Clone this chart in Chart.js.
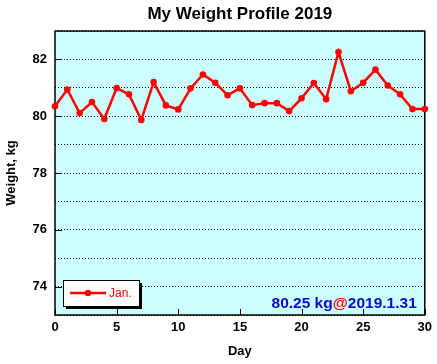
<!DOCTYPE html>
<html>
<head>
<meta charset="utf-8">
<title>My Weight Profile 2019</title>
<script src="https://cdn.jsdelivr.net/npm/chart.js@4.4.0/dist/chart.umd.min.js"></script>
<style>
  html, body { margin: 0; padding: 0; background: #fff; }
</style>
</head>
<body>
<canvas id="weightChart" width="437" height="364"></canvas>
<script>
// ---------------------------------------------------------------------
// Data
// ---------------------------------------------------------------------
const DAYS = [0, 1, 2, 3, 4, 5, 6, 7, 8, 9, 10, 11, 12, 13, 14, 15,
              16, 17, 18, 19, 20, 21, 22, 23, 24, 25, 26, 27, 28, 29, 30];
const WEIGHTS = [80.35, 80.94, 80.11, 80.50, 79.90, 80.99, 80.77, 79.87, 81.20, 80.38,
                 80.24, 80.98, 81.47, 81.18, 80.74, 80.98, 80.39, 80.46, 80.46, 80.18,
                 80.63, 81.17, 80.60, 82.26, 80.88, 81.18, 81.64, 81.08, 80.77, 80.25, 80.25];
const Y_LABELS = [74, 76, 78, 80, 82];
const X_LABELS = [0, 5, 10, 15, 20, 25, 30];
const SERIES_NAME = 'Jan.';
const LATEST_TEXT = '80.25 kg';
const LATEST_DATE = '2019.1.31';

const FONT = '"Liberation Sans", Arial, Helvetica, sans-serif';
const RED = '#ff0000';
const BLUE = '#0a0acc';

// ---------------------------------------------------------------------
// Plugins: plot background, frame + inward ticks, legend box, note
// ---------------------------------------------------------------------
const plotBackground = {
    id: 'plotBackground',
    beforeDraw(chart) {
        const a = chart.chartArea;
        const ctx = chart.ctx;
        ctx.save();
        ctx.fillStyle = '#ccffff';
        ctx.fillRect(a.left, a.top, a.right - a.left, a.bottom - a.top);
        ctx.restore();
    }
};

const plotFrame = {
    id: 'plotFrame',
    beforeDatasetsDraw(chart) {
        const a = chart.chartArea;
        const ctx = chart.ctx;
        const xs = chart.scales.x;
        const ys = chart.scales.y;
        ctx.save();
        ctx.strokeStyle = '#000';
        ctx.lineWidth = 1.5;
        ctx.strokeRect(a.left, a.top, a.right - a.left, a.bottom - a.top);
        ctx.lineWidth = 1;
        ctx.beginPath();
        Y_LABELS.forEach(function (v) {
            const py = Math.round(ys.getPixelForValue(v)) + 0.5;
            ctx.moveTo(a.left, py);
            ctx.lineTo(a.left + 7, py);
        });
        X_LABELS.forEach(function (v) {
            const px = Math.round(xs.getPixelForValue(v)) + 0.5;
            ctx.moveTo(px, a.bottom);
            ctx.lineTo(px, a.bottom - 6);
        });
        ctx.stroke();
        ctx.restore();
    }
};

const legendAndNote = {
    id: 'legendAndNote',
    afterDraw(chart) {
        const a = chart.chartArea;
        const ctx = chart.ctx;
        ctx.save();

        // legend box with drop shadow
        const bx = a.left + 8, by = a.bottom - 35, bw = 76, bh = 26;
        ctx.fillStyle = '#000';
        ctx.fillRect(bx + 3, by + 3, bw, bh);
        ctx.fillStyle = '#fff';
        ctx.fillRect(bx, by, bw, bh);
        ctx.strokeStyle = '#000';
        ctx.lineWidth = 1;
        ctx.strokeRect(bx + 0.5, by + 0.5, bw, bh);

        const ly = by + 13;
        ctx.strokeStyle = RED;
        ctx.lineWidth = 2.5;
        ctx.beginPath();
        ctx.moveTo(bx + 7, ly);
        ctx.lineTo(bx + 43, ly);
        ctx.stroke();
        ctx.fillStyle = RED;
        ctx.beginPath();
        ctx.arc(bx + 25, ly, 3.2, 0, Math.PI * 2);
        ctx.fill();
        ctx.font = '12px ' + FONT;
        ctx.textBaseline = 'middle';
        ctx.textAlign = 'left';
        ctx.fillText(SERIES_NAME, bx + 46, ly + 1);

        // latest value note, right aligned inside the plot
        ctx.font = 'bold 15.5px ' + FONT;
        ctx.textBaseline = 'alphabetic';
        const right = a.right - 8;
        const base = a.bottom - 7;
        const wDate = ctx.measureText(LATEST_DATE).width;
        const wAt = ctx.measureText('@').width;
        ctx.fillStyle = BLUE;
        ctx.textAlign = 'right';
        ctx.fillText(LATEST_DATE, right, base);
        ctx.fillStyle = RED;
        ctx.fillText('@', right - wDate, base);
        ctx.fillStyle = BLUE;
        ctx.fillText(LATEST_TEXT, right - wDate - wAt, base);

        ctx.restore();
    }
};

// ---------------------------------------------------------------------
// Chart
// ---------------------------------------------------------------------
const points = DAYS.map(function (d, i) { return { x: d, y: WEIGHTS[i] }; });

new Chart(document.getElementById('weightChart'), {
    type: 'line',
    data: {
        datasets: [{
            label: SERIES_NAME,
            data: points,
            borderColor: RED,
            backgroundColor: RED,
            borderWidth: 2.5,
            pointRadius: 3.3,
            pointBorderWidth: 0,
            pointBackgroundColor: RED,
            tension: 0,
            fill: false,
            clip: false,
        }],
    },
    options: {
        responsive: false,
        animation: false,
        layout: { padding: { left: 0, right: 12, top: 0, bottom: 0 } },
        plugins: {
            legend: { display: false },
            tooltip: { enabled: false },
            title: {
                display: true,
                text: 'My Weight Profile 2019',
                color: '#000',
                fullSize: false,
                font: { family: FONT, size: 17, weight: 'bold' },
                padding: { top: 4, bottom: 6.6 },
            },
        },
        scales: {
            x: {
                type: 'linear',
                min: 0,
                max: 30,
                afterFit: function (s) { s.height = 49; },
                grid: { display: false, drawTicks: false },
                border: { display: false },
                ticks: {
                    stepSize: 5,
                    padding: 5,
                    color: '#000',
                    font: { family: FONT, size: 13, weight: 'bold' },
                    maxRotation: 0,
                },
                title: {
                    display: true,
                    text: 'Day',
                    color: '#000',
                    font: { family: FONT, size: 13, weight: 'bold' },
                    padding: { top: 0, bottom: 5 },
                },
            },
            y: {
                type: 'linear',
                min: 73,
                max: 83,
                afterFit: function (s) { s.width = 55; },
                grid: { color: '#000', lineWidth: 1, drawTicks: false },
                border: { display: false, dash: [1, 2] },
                ticks: {
                    stepSize: 1,
                    padding: 8,
                    color: '#000',
                    font: { family: FONT, size: 13, weight: 'bold' },
                    callback: function (v) {
                        return Y_LABELS.indexOf(v) >= 0 ? String(v) : '';
                    },
                },
                title: {
                    display: true,
                    text: 'Weight, kg',
                    color: '#000',
                    font: { family: FONT, size: 13, weight: 'bold' },
                    padding: { top: 4, bottom: 0 },
                },
            },
        },
    },
    plugins: [plotBackground, plotFrame, legendAndNote],
});
</script>
</body>
</html>
